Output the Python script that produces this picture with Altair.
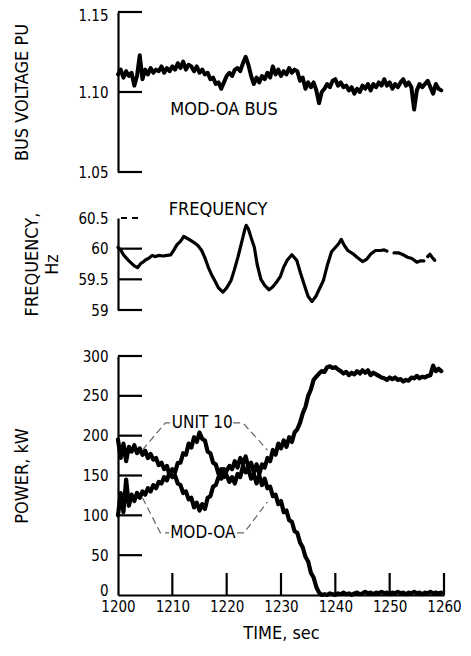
import altair as alt
import pandas as pd

FONT = "DejaVu Sans Condensed"

# ---------------- data ----------------
volt_time = [
    1200.0, 1200.5, 1201.0, 1201.5, 1202.0, 1202.5, 1203.0, 1203.5, 1204.0, 1204.5,
    1205.0, 1205.5, 1206.0, 1206.5, 1207.0, 1207.5, 1208.0, 1208.5, 1209.0, 1209.5,
    1210.0, 1210.5, 1211.0, 1211.5, 1212.0, 1212.5, 1213.0, 1213.5, 1214.0, 1214.5,
    1215.0, 1215.5, 1216.0, 1216.5, 1217.0, 1217.5, 1218.0, 1218.5, 1219.0, 1219.5,
    1220.0, 1220.5, 1221.0, 1221.5, 1222.0, 1222.5, 1223.0, 1223.5, 1224.0, 1224.5,
    1225.0, 1225.5, 1226.0, 1226.5, 1227.0, 1227.5, 1228.0, 1228.5, 1229.0, 1229.5,
    1230.0, 1230.5, 1231.0, 1231.5, 1232.0, 1232.5, 1233.0, 1233.5, 1234.0, 1234.5,
    1235.0, 1235.5, 1236.0, 1236.5, 1237.0, 1237.5, 1238.0, 1238.5, 1239.0, 1239.5,
    1240.0, 1240.5, 1241.0, 1241.5, 1242.0, 1242.5, 1243.0, 1243.5, 1244.0, 1244.5,
    1245.0, 1245.5, 1246.0, 1246.5, 1247.0, 1247.5, 1248.0, 1248.5, 1249.0, 1249.5,
    1250.0, 1250.5, 1251.0, 1251.5, 1252.0, 1252.5, 1253.0, 1253.5, 1254.0, 1254.5,
    1255.0, 1255.5, 1256.0, 1256.5, 1257.0, 1257.5, 1258.0, 1258.5, 1259.0, 1259.5,
]
volt_pu = [
    1.111, 1.114, 1.109, 1.113, 1.110, 1.112, 1.104, 1.110, 1.123, 1.108,
    1.114, 1.111, 1.115, 1.112, 1.114, 1.113, 1.116, 1.112, 1.115, 1.113,
    1.116, 1.114, 1.118, 1.115, 1.119, 1.114, 1.117, 1.116, 1.113, 1.116,
    1.112, 1.114, 1.111, 1.112, 1.108, 1.109, 1.105, 1.106, 1.102, 1.106,
    1.110, 1.112, 1.110, 1.114, 1.115, 1.113, 1.118, 1.122, 1.117, 1.110,
    1.105, 1.109, 1.106, 1.110, 1.108, 1.112, 1.109, 1.116, 1.111, 1.114,
    1.110, 1.113, 1.111, 1.115, 1.112, 1.114, 1.113, 1.107, 1.109, 1.102,
    1.106, 1.103, 1.106, 1.101, 1.093, 1.100, 1.102, 1.105, 1.103, 1.107,
    1.108, 1.104, 1.106, 1.103, 1.104, 1.101, 1.103, 1.099, 1.102, 1.100,
    1.104, 1.102, 1.105, 1.101, 1.105, 1.103, 1.106, 1.104, 1.108, 1.104,
    1.106, 1.102, 1.105, 1.103, 1.106, 1.108, 1.104, 1.106, 1.103, 1.089,
    1.101, 1.105, 1.103, 1.105, 1.107, 1.103, 1.099, 1.105, 1.102, 1.101,
]

# frequency trace (three pieces: the original trace is broken in two places)
freq_time_a = [
    1200.0, 1200.5, 1201.0, 1201.5, 1202.0, 1202.5, 1203.0,
    1203.6, 1204.2, 1204.6, 1205.1, 1205.6,
    1206.3, 1206.8, 1207.5, 1208.3, 1209.0, 1209.7,
    1210.3, 1210.9, 1211.5, 1212.1, 1212.7, 1213.3,
    1214.0, 1214.7, 1215.4, 1216.0, 1216.6, 1217.2,
    1217.8, 1218.5, 1219.3, 1220.0, 1220.8, 1221.4,
    1222.1, 1222.8, 1223.3, 1223.6, 1224.0, 1224.5,
    1225.1, 1225.6, 1226.3, 1227.0, 1227.8, 1228.5,
    1229.3, 1229.9, 1230.5, 1231.2, 1232.0, 1232.9,
    1233.6, 1234.4, 1235.0, 1235.7, 1236.4, 1237.1,
    1237.8, 1238.5, 1239.3, 1240.0, 1240.6, 1241.1,
    1241.6, 1242.3, 1243.2, 1244.0, 1245.0, 1245.8,
    1246.6, 1247.4, 1248.3, 1249.0, 1249.5,
]
freq_hz_a = [
    60.02, 59.98, 59.90, 59.85, 59.80, 59.76, 59.72,
    59.69, 59.76, 59.78, 59.82, 59.84,
    59.89, 59.87, 59.89, 59.88, 59.89, 59.90,
    59.98, 60.07, 60.12, 60.20, 60.17, 60.14,
    60.10, 60.05, 59.97, 59.85, 59.70, 59.58,
    59.48, 59.36, 59.29, 59.36, 59.48, 59.65,
    59.87, 60.12, 60.30, 60.38, 60.32, 60.18,
    60.02, 59.75, 59.50, 59.40, 59.33, 59.38,
    59.47, 59.55, 59.70, 59.82, 59.90, 59.81,
    59.60, 59.38, 59.22, 59.14, 59.22, 59.35,
    59.48, 59.72, 59.95, 60.02, 60.08, 60.15,
    60.06, 59.97, 59.92, 59.86, 59.79, 59.83,
    59.92, 59.97, 59.97, 59.98, 59.96,
]
freq_time_b = [1250.8, 1251.7, 1252.5, 1253.3, 1254.1, 1255.0, 1255.6, 1256.3]
freq_hz_b = [59.93, 59.93, 59.90, 59.86, 59.84, 59.78, 59.80, 59.80]
freq_time_c = [1257.0, 1257.4, 1257.8, 1258.3]
freq_hz_c = [59.87, 59.91, 59.86, 59.81]

power_time = volt_time
unit10_kw = [
    195, 172, 190, 168, 186, 180, 188, 178, 184, 176,
    181, 172, 177, 170, 172, 163, 166, 158, 162, 150,
    158, 154, 166, 166, 178, 176, 190, 185, 198, 192,
    204, 196, 194, 180, 178, 166, 164, 152, 158, 148,
    156, 162, 158, 168, 160, 172, 165, 174, 160, 166,
    154, 164, 152, 164, 160, 172, 168, 182, 176, 190,
    184, 194, 186, 198, 192, 204, 208, 216, 228, 236,
    250, 258, 270, 274, 278, 281, 280, 286, 287, 285,
    286, 283, 281, 278, 280, 276, 279, 277, 281, 278,
    282, 279, 282, 276, 279, 277, 275, 273, 272, 270,
    273, 271, 273, 270, 271, 268, 270, 269, 273, 272,
    275, 272, 274, 273, 275, 276, 288, 281, 284, 281,
]
modoa_kw = [
    100, 128, 104, 145, 112, 126, 118, 128, 122, 130,
    126, 134, 130, 138, 134, 142, 140, 148, 144, 154,
    148, 150, 140, 138, 128, 130, 120, 122, 110, 116,
    106, 114, 108, 122, 124, 136, 138, 148, 146, 158,
    150, 142, 148, 140, 152, 148, 162, 154, 158, 146,
    152, 140, 150, 138, 146, 134, 136, 124, 126, 114,
    118, 104, 106, 94, 92, 80, 78, 66, 60, 48,
    42, 28, 22, 10, 3, 0, 1, 0, 2, 1,
    0, 2, 1, 3, 1, 2, 0, 2, 3, 1,
    2, 4, 2, 3, 1, 3, 2, 4, 2, 3,
    1, 3, 2, 4, 2, 3, 1, 3, 2, 4,
    2, 3, 1, 3, 2, 4, 2, 3, 2, 3,
]

volt_ticks = [1.05, 1.10, 1.15]
freq_ticks = [59.0, 59.5, 60.0]
freq_ticks_dashed = [60.5]
power_ticks = [50, 100, 150, 200, 250, 300]
power_labels = [0, 50, 100, 150, 200, 250, 300]
time_ticks = [1210, 1220, 1230, 1240, 1250, 1260]
time_labels = [1200, 1210, 1220, 1230, 1240, 1250, 1260]

leader_id = ["u1", "u1", "u1", "u2", "u2", "u2", "m1", "m1", "m1", "m2", "m2", "m2"]
leader_t = [1204.5, 1208.7, 1210.0, 1221.2, 1223.0, 1227.5,
            1204.5, 1207.8, 1209.4, 1221.9, 1223.2, 1227.5]
leader_kw = [182, 216, 216, 216, 216, 182, 122, 78, 78, 78, 78, 117]
ann_text = ["UNIT 10", "MOD-OA"]
ann_t = [1215.5, 1215.6]
ann_kw = [216, 78]

# ---------------- frames ----------------
volt_df = pd.DataFrame({"t": volt_time, "v": volt_pu})
freq_df = pd.concat([
    pd.DataFrame({"t": freq_time_a, "f": freq_hz_a, "seg": "a"}),
    pd.DataFrame({"t": freq_time_b, "f": freq_hz_b, "seg": "b"}),
    pd.DataFrame({"t": freq_time_c, "f": freq_hz_c, "seg": "c"}),
])
power_df = pd.concat([
    pd.DataFrame({"t": power_time, "p": unit10_kw, "s": "UNIT 10"}),
    pd.DataFrame({"t": power_time, "p": modoa_kw, "s": "MOD-OA"}),
])
leader_df = pd.DataFrame({"t": leader_t, "p": leader_kw, "id": leader_id})
ann_df = pd.DataFrame({"t": ann_t, "p": ann_kw, "label": ann_text})

W = 326
H1, H2, H3 = 160, 92, 239
TICK = 24

xsc = alt.Scale(domain=[1200, 1260], nice=False, zero=False)


def yaxis(title, values, fmt, titlex, h, **kw):
    return alt.Axis(
        values=values, format=fmt, title=title, ticks=False, domain=True,
        labelPadding=10, labelOverlap=False, grid=False,
        titleX=titlex, titleY=h / 2, titleAngle=270, titleAlign="center",
        titleBaseline="middle", titleLineHeight=20, **kw,
    )


# ---------------- voltage panel ----------------
vsc = alt.Scale(domain=[1.05, 1.15], nice=False, zero=False)
v_axis = yaxis(
    "BUS VOLTAGE PU", volt_ticks, ".2f", -96, H1,
    labelBaseline={"condition": {"test": "datum.value > 1.14", "value": "top"}, "value": "middle"},
    labelOffset={"condition": {"test": "datum.value > 1.14", "value": -4}, "value": 0},
)
v_line = alt.Chart(volt_df).mark_line(
    color="black", strokeWidth=4, strokeJoin="round", strokeCap="round"
).encode(
    x=alt.X("t:Q", scale=xsc, axis=None),
    y=alt.Y("v:Q", scale=vsc, axis=v_axis),
)
v_ticks = alt.Chart(pd.DataFrame({"v": volt_ticks})).mark_rule(
    color="black", strokeWidth=2.2
).encode(y=alt.Y("v:Q", axis=v_axis), x=alt.value(0), x2=alt.value(TICK))
v_text = alt.Chart(pd.DataFrame({"t": [1219.5], "v": [1.0885], "label": ["MOD-OA BUS"]})).mark_text(
    font=FONT, fontSize=18, color="black"
).encode(x=alt.X("t:Q", scale=xsc, axis=None), y=alt.Y("v:Q", axis=v_axis), text="label:N")
volt_chart = alt.layer(v_line, v_ticks, v_text).properties(width=W, height=H1)

# ---------------- frequency panel ----------------
fsc = alt.Scale(domain=[59, 60.5], nice=False, zero=False)
f_axis = yaxis(["FREQUENCY,", "Hz"], freq_ticks + freq_ticks_dashed, ".1~f", -86, H2)
f_line = alt.Chart(freq_df).mark_line(
    color="black", strokeWidth=3.2, strokeJoin="round", strokeCap="round"
).encode(
    x=alt.X("t:Q", scale=xsc, axis=None),
    y=alt.Y("f:Q", scale=fsc, axis=f_axis),
    detail="seg:N",
)
f_ticks = alt.Chart(pd.DataFrame({"f": freq_ticks})).mark_rule(
    color="black", strokeWidth=2.2
).encode(y=alt.Y("f:Q", axis=f_axis), x=alt.value(0), x2=alt.value(TICK))
f_ticks_d = alt.Chart(pd.DataFrame({"f": freq_ticks_dashed})).mark_rule(
    color="black", strokeWidth=2.2, strokeDash=[6, 5]
).encode(y=alt.Y("f:Q", axis=f_axis), x=alt.value(3), x2=alt.value(TICK))
f_text = alt.Chart(pd.DataFrame({"t": [1218.4], "f": [60.63], "label": ["FREQUENCY"]})).mark_text(
    font=FONT, fontSize=18, color="black"
).encode(x=alt.X("t:Q", scale=xsc, axis=None), y=alt.Y("f:Q", axis=f_axis), text="label:N")
freq_chart = alt.layer(f_line, f_ticks, f_ticks_d, f_text).properties(width=W, height=H2)

# ---------------- power panel ----------------
psc = alt.Scale(domain=[0, 300], nice=False)
p_axis = yaxis(
    "POWER, kW", power_labels, "d", -96, H3,
    labelBaseline={"condition": {"test": "datum.value == 0", "value": "alphabetic"}, "value": "middle"},
)
t_axis = alt.Axis(
    values=time_labels, format="d", title="TIME, sec", ticks=False, domain=True,
    labelPadding=4, labelFlush=False, labelOverlap=False, grid=False, titlePadding=10,
)
p_line = alt.Chart(power_df).mark_line(
    color="black", strokeWidth=4.2, strokeJoin="round", strokeCap="round"
).encode(
    x=alt.X("t:Q", scale=xsc, axis=t_axis),
    y=alt.Y("p:Q", scale=psc, axis=p_axis),
    detail="s:N",
)
p_ticks = alt.Chart(pd.DataFrame({"p": power_ticks})).mark_rule(
    color="black", strokeWidth=2.2
).encode(y=alt.Y("p:Q", axis=p_axis), x=alt.value(0), x2=alt.value(TICK))
t_ticks = alt.Chart(pd.DataFrame({"t": time_ticks})).mark_rule(
    color="black", strokeWidth=2.2
).encode(x=alt.X("t:Q", axis=t_axis), y=alt.value(H3), y2=alt.value(H3 - 22))
p_leaders = alt.Chart(leader_df).mark_line(
    color="#666666", strokeWidth=1.2, strokeDash=[7, 4]
).encode(x=alt.X("t:Q", axis=t_axis), y=alt.Y("p:Q", axis=p_axis), detail="id:N")
p_text = alt.Chart(ann_df).mark_text(font=FONT, fontSize=17, color="black").encode(
    x=alt.X("t:Q", axis=t_axis), y=alt.Y("p:Q", axis=p_axis), text="label:N"
)
power_chart = alt.layer(p_line, p_ticks, t_ticks, p_leaders, p_text).properties(width=W, height=H3)

chart = alt.vconcat(
    volt_chart, freq_chart, power_chart, spacing=46, bounds="flush"
).properties(
    padding={"left": 5, "top": 0, "right": 0, "bottom": 0},
    background="white",
).configure_view(
    stroke=None
).configure_axis(
    labelFont=FONT, titleFont=FONT, labelFontSize=15, titleFontSize=18,
    labelColor="black", titleColor="black", titleFontWeight="normal",
    domainColor="black", domainWidth=2.2,
)

chart.save("out.html", embed_options={"renderer": "svg", "actions": False})
